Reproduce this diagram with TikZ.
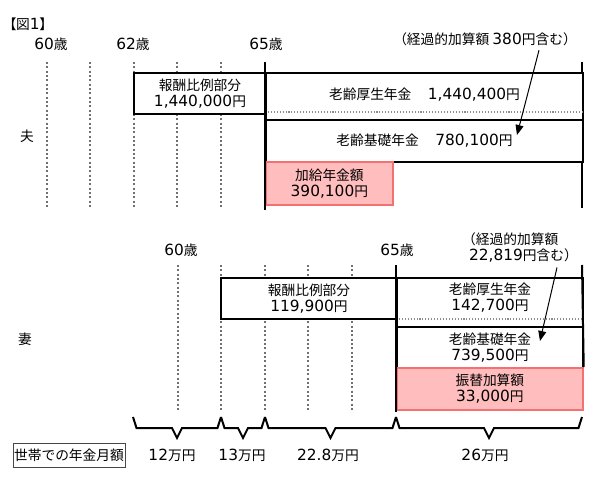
\documentclass[tikz,border=0pt]{standalone}
\usepackage{fontspec}
\setmainfont{Noto Sans CJK JP}
\newfontfamily\numfont[Scale=1.12]{DejaVu Sans}
\newfontfamily\paltfont[RawFeature=+palt]{Noto Sans CJK JP}
\usepackage{xcolor}
\usepackage{tikz}
\usetikzlibrary{arrows.meta,positioning}
\definecolor{addpink}{HTML}{FFBDBD}
\definecolor{addred}{HTML}{F57171}
\definecolor{guidegray}{HTML}{707070}
\definecolor{subgray}{HTML}{8C8C8C}
\definecolor{framegray}{HTML}{484848}
\newcommand{\nm}[1]{{\numfont #1}}
\tikzset{
  pensionbox/.style={
    draw=black,
    fill=white,
    line width=1.5pt,
    anchor=north west,
    align=center,
    inner sep=0pt
  },
  addbox/.style={
    pensionbox,
    draw=addred,
    fill=addpink,
    line width=1.3pt
  },
  boxtext/.style={align=center},
  guide/.style={
    draw=guidegray,
    line width=1.5pt,
    dash pattern=on 1.5pt off 1.75pt
  },
  subline/.style={
    draw=subgray,
    line width=1.2pt,
    dash pattern=on 0.8pt off 1.4pt
  },
  agerule/.style={
    draw=black,
    line width=1.5pt
  },
  notearrow/.style={
    -{Triangle[length=7.5pt,width=6pt]},
    line width=0.75pt,
    draw=black
  },
  bracketline/.style={
    draw=black,
    line width=1.5pt
  },
  sumbox/.style={
    draw=framegray,
    line width=0.75pt,
    minimum width=84pt,
    minimum height=18pt,
    inner sep=0pt
  }
}

\begin{document}
\begin{tikzpicture}[x=0.75pt, y=-0.75pt, every node/.style={font=\fontsize{10.3}{12}\selectfont}]
  \useasboundingbox (0,0) rectangle (590,486);

  % husband
  \node (fig) at (28,24) {\paltfont 【図\nm{1}】};
  \node (hAge60) at (51,44) {\nm{60}歳};
  \node (hAge62) at (133,44) {\nm{62}歳};
  \node (hAge65) at (266,44) {\nm{65}歳};
  \node (husband) at (27,136) {夫};

  \foreach \x in {47,90,134,177,221}
    \draw[guide] (\x,62) -- (\x,208);
  \draw[agerule] (582,62) -- (582,208);

  \node[pensionbox, minimum width=99pt, minimum height=30.75pt] (hHoshu) at (133,72) {報酬比例部分\\\nm{1,440,000}円};
  \node[pensionbox, minimum width=237.75pt, minimum height=35.25pt,
    label={[boxtext, yshift=1.5pt]center:{老齢厚生年金\hspace{1.2em}\nm{1,440,400}円}}] (hKosei) at (265,72) {};
  \node[pensionbox, minimum width=237.75pt, minimum height=31.5pt] (hKiso) at (265,119) {老齢基礎年金\hspace{1.2em}\nm{780,100}円};
  \node[addbox, minimum width=95.25pt, minimum height=32.25pt] (hKakyu) at (265,161) {加給年金額\\\nm{390,100}円};
  \draw[subline] (265,112) -- (582,112);
  \draw[agerule] (265,62) -- (265,210);

  \node (hNote) at (485,39) {（経過的加算額 \nm{380}円含む）};
  \coordinate (hArrowEnd) at (517,135);
  \draw[notearrow] ([xshift=40.5pt]hNote.south) -- (hArrowEnd);

  % wife
  \node (wAge60) at (181,250) {\nm{60}歳};
  \node (wAge65) at (397,250) {\nm{65}歳};
  \node (wife) at (25,339) {妻};

  \foreach \x in {178,221,265,308,352}
    \draw[guide] (\x,265) -- (\x,412);

  \node[pensionbox, minimum width=132pt, minimum height=30.75pt] (wHoshu) at (220,277) {報酬比例部分\\\nm{119,900}円};
  \node[pensionbox, minimum width=139.5pt, minimum height=36.75pt,
    label={[boxtext, yshift=3.4pt]center:{老齢厚生年金\\\nm{142,700}円}}] (wKosei) at (396,277) {};
  \node[pensionbox, minimum width=139.5pt, minimum height=30.75pt] (wKiso) at (396,326) {老齢基礎年金\\\nm{739,500}円};
  \node[addbox, minimum width=139.5pt, minimum height=31.5pt] (wFurikae) at (396,367) {振替加算額\\\nm{33,000}円};
  \draw[subline] (396,319) -- (582,319);
  \draw[agerule] (582,265) -- (wFurikae.north east);
  \draw[agerule] (396,265) -- (396,412);

  \node[align=left] (wNote) at (520,248) {（経過的加算額\\\hspace{0.5em}\nm{22,819}円含む）};
  \coordinate (wArrowEnd) at (540,341);
  \draw[notearrow] ([xshift=27.75pt]wNote.south) -- (wArrowEnd);

  % monthly totals
  \foreach \a/\b in {133/221,221/265,265/396,396/582}{
    \pgfmathsetmacro{\midx}{(\a+\b)/2}
    \draw[bracketline] (\a,417) -- (\a+3.5,428) -- (\midx-5,428) -- (\midx,438)
      -- (\midx+5,428) -- (\b-3.5,428) -- (\b,417);
  }

  \node[sumbox] (monthly) at (69,455) {世帯での年金月額};
  \node (amt1) at (172,455) {\nm{12}万円};
  \node (amt2) at (242,455) {\nm{13}万円};
  \node (amt3) at (328,455) {\nm{22.8}万円};
  \node (amt4) at (485,455) {\nm{26}万円};
\end{tikzpicture}
\end{document}
